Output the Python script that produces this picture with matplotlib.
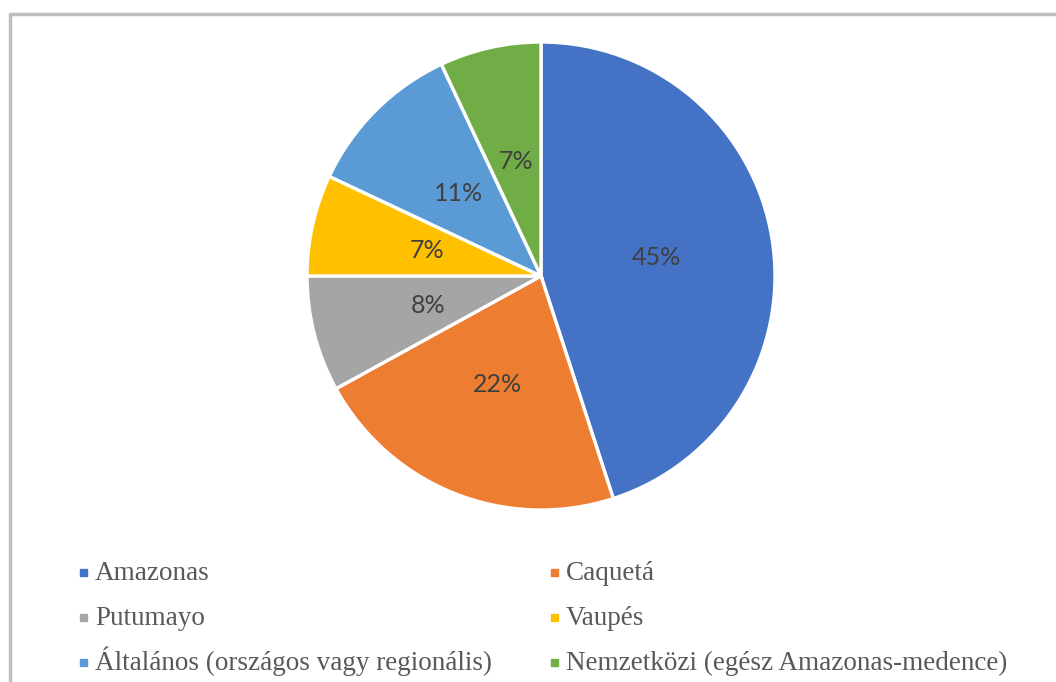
import matplotlib.pyplot as plt
from matplotlib.patches import Rectangle
from matplotlib.lines import Line2D

labels = ['Amazonas', 'Caquetá', 'Putumayo', 'Vaupés',
          'Általános (országos vagy regionális)', 'Nemzetközi (egész Amazonas-medence)']
values = [45, 22, 8, 7, 11, 7]
colors = ['#4472C4', '#ED7D31', '#A5A5A5', '#FFC000', '#5B9BD5', '#70AD47']

W, H = 1056, 682
fig = plt.figure(figsize=(W / 100, H / 100), dpi=100)

# pie centre and radius in pixels
cx, cy, r = 541, 276, 234
ax = fig.add_axes([(cx - r) / W, (H - cy - r) / H, 2 * r / W, 2 * r / H])
wedges, texts, autotexts = ax.pie(values, colors=colors, startangle=90, counterclock=False,
                                  autopct='%d%%', pctdistance=0.5,
                                  wedgeprops=dict(edgecolor='white', linewidth=2.4))
for t in autotexts:
    t.set_fontsize(18)
    t.set_color('#404040')
    t.set_family('Lato')
ax.set_xlim(-1, 1)
ax.set_ylim(-1, 1)
ax.axis('off')

# legend drawn by hand, two columns
col_x = [80, 551]
row_y = [572, 617, 662]
for i, lab in enumerate(labels):
    x = col_x[i % 2]
    y = row_y[i // 2]
    fig.add_artist(Rectangle((x / W, (H - y - 4) / H), 7 / W, 7 / H,
                             transform=fig.transFigure, color=colors[i]))
    fig.text((x + 15) / W, (H - y - 8) / H, lab, fontsize=19.5, family='Liberation Serif',
             color='#595959', va='baseline', ha='left')

# grey frame (only top and left visible)
fig.add_artist(Line2D([10 / W, 10 / W, 1], [0, (H - 14) / H, (H - 14) / H],
                      transform=fig.transFigure, color='#BFBFBF', linewidth=2.5))

fig.savefig('out.png', dpi=100)
